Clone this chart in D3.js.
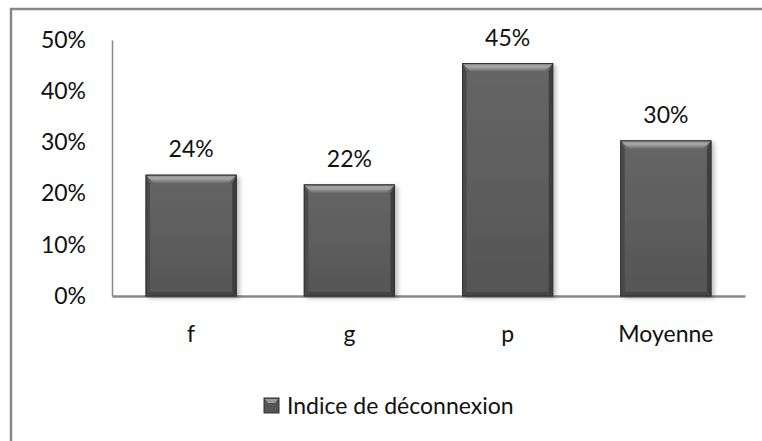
<!DOCTYPE html>
<html>
<head>
<meta charset="utf-8">
<script src="https://cdn.jsdelivr.net/npm/d3@7"></script>
<style>
  body { margin: 0; background: #fff; }
  text { font-family: Lato, "Open Sans", sans-serif; fill: #111; }
</style>
</head>
<body>
<svg id="chart"></svg>
<script>
const categories = ["f", "g", "p", "Moyenne"];
const values = [0.236, 0.217, 0.454, 0.303];
const labels = ["24%", "22%", "45%", "30%"];
const yTicks = [0, 0.1, 0.2, 0.3, 0.4, 0.5];
const seriesName = "Indice de déconnexion";

const width = 762, height = 441;
const margin = { top: 40, right: 17, bottom: 145, left: 112 };
const innerW = width - margin.left - margin.right;
const innerH = height - margin.top - margin.bottom;

const svg = d3.select("#chart")
  .attr("width", width)
  .attr("height", height);

const defs = svg.append("defs");

const body = defs.append("linearGradient")
  .attr("id", "barBody").attr("x1", 0).attr("y1", 0).attr("x2", 0).attr("y2", 1);
body.append("stop").attr("offset", "0%").attr("stop-color", "#666");
body.append("stop").attr("offset", "100%").attr("stop-color", "#555");

const topBevel = defs.append("linearGradient")
  .attr("id", "topBevel").attr("x1", 0).attr("y1", 0).attr("x2", 0).attr("y2", 1);
topBevel.append("stop").attr("offset", "0%").attr("stop-color", "#8a8a8a");
topBevel.append("stop").attr("offset", "40%").attr("stop-color", "#a8a8a8");
topBevel.append("stop").attr("offset", "100%").attr("stop-color", "#6a6a6a");

const shadow = defs.append("filter").attr("id", "shadow")
  .attr("x", "-20%").attr("y", "-10%").attr("width", "150%").attr("height", "130%");
shadow.append("feDropShadow")
  .attr("dx", 3).attr("dy", 2).attr("stdDeviation", 2)
  .attr("flood-color", "#000").attr("flood-opacity", 0.25);

// outer frame
svg.append("rect")
  .attr("x", 11).attr("y", 9)
  .attr("width", width + 20).attr("height", height + 20)
  .attr("fill", "none")
  .attr("stroke", "#888")
  .attr("stroke-width", 2.5);

const g = svg.append("g")
  .attr("transform", `translate(${margin.left},${margin.top})`);

const x = d3.scaleBand()
  .domain(categories)
  .range([0, innerW])
  .paddingInner(0.43)
  .paddingOuter(0.215);

const y = d3.scaleLinear()
  .domain([0, 0.5])
  .range([innerH, 0]);

const yAxis = g.append("g")
  .call(d3.axisLeft(y).tickValues(yTicks).tickFormat(d3.format(".0%"))
    .tickSize(0).tickSizeOuter(0).tickPadding(26));
yAxis.select(".domain").attr("stroke", "#888").attr("stroke-width", 1.5);
yAxis.selectAll("text").style("font-size", "23px").attr("fill", "#111");

const xAxis = g.append("g")
  .attr("transform", `translate(0,${innerH})`)
  .call(d3.axisBottom(x).tickSize(0).tickSizeOuter(0).tickPadding(30));
xAxis.select(".domain").attr("stroke", "#888").attr("stroke-width", 2.5);
xAxis.selectAll("text").style("font-size", "23px").attr("fill", "#111");

const data = categories.map((c, i) => ({ cat: c, value: values[i], label: labels[i] }));

const bars = g.append("g").selectAll(".bar")
  .data(data)
  .join("g")
  .attr("class", "bar");

const bevel = 8, side = 4;

bars.append("rect")
  .attr("x", d => x(d.cat))
  .attr("y", d => y(d.value))
  .attr("width", x.bandwidth())
  .attr("height", d => innerH - y(d.value))
  .attr("fill", "url(#barBody)")
  .attr("stroke", "#3a3a3a")
  .attr("stroke-width", 1)
  .attr("filter", "url(#shadow)");

// top bevel
bars.append("polygon")
  .attr("points", d => {
    const x0 = x(d.cat), x1 = x0 + x.bandwidth(), y0 = y(d.value);
    return [[x0, y0], [x1, y0], [x1 - bevel, y0 + bevel], [x0 + bevel, y0 + bevel]].join(" ");
  })
  .attr("fill", "url(#topBevel)");

// left bevel
bars.append("polygon")
  .attr("points", d => {
    const x0 = x(d.cat), y0 = y(d.value), y1 = innerH;
    return [[x0, y0], [x0 + side, y0 + bevel], [x0 + side, y1 - side], [x0, y1]].join(" ");
  })
  .attr("fill", "#4a4a4a");

// right bevel
bars.append("polygon")
  .attr("points", d => {
    const x1 = x(d.cat) + x.bandwidth(), y0 = y(d.value), y1 = innerH;
    return [[x1, y0], [x1 - side, y0 + bevel], [x1 - side, y1 - side], [x1, y1]].join(" ");
  })
  .attr("fill", "#3e3e3e");

// bottom bevel
bars.append("polygon")
  .attr("points", d => {
    const x0 = x(d.cat), x1 = x0 + x.bandwidth(), y1 = innerH;
    return [[x0, y1], [x0 + side, y1 - side], [x1 - side, y1 - side], [x1, y1]].join(" ");
  })
  .attr("fill", "#454545");

bars.append("rect")
  .attr("x", d => x(d.cat))
  .attr("y", d => y(d.value))
  .attr("width", x.bandwidth())
  .attr("height", d => innerH - y(d.value))
  .attr("fill", "none")
  .attr("stroke", "#333")
  .attr("stroke-width", 1);

bars.append("text")
  .attr("x", d => x(d.cat) + x.bandwidth() / 2)
  .attr("y", d => y(d.value) - 18)
  .attr("text-anchor", "middle")
  .style("font-size", "23px")
  .text(d => d.label);

// legend
const legend = svg.append("g")
  .attr("transform", "translate(264,398)");
legend.append("rect")
  .attr("width", 15).attr("height", 15)
  .attr("fill", "#555")
  .attr("stroke", "#333");
legend.append("polygon")
  .attr("points", "1,1 14,1 11,5 4,5")
  .attr("fill", "#999");
legend.append("text")
  .attr("x", 23).attr("y", 16)
  .style("font-size", "23px")
  .text(seriesName);
</script>
</body>
</html>
